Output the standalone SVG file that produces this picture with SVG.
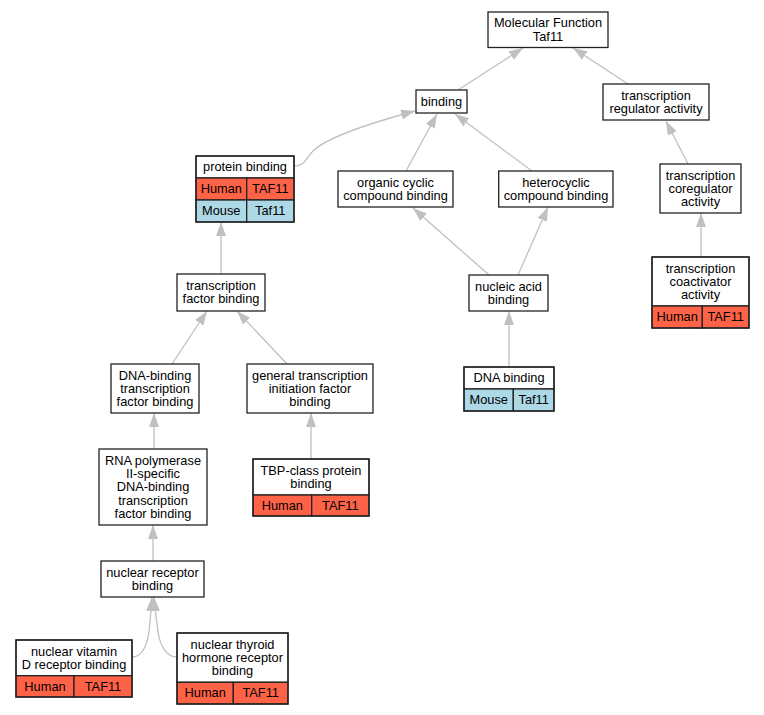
<svg xmlns="http://www.w3.org/2000/svg" width="764" height="715" viewBox="0 0 764 715">
<style>
.b{fill:#fff;stroke:#222;stroke-width:1.3}
.h{fill:#ff6347;stroke:#222;stroke-width:1.3}
.m{fill:#add8e6;stroke:#222;stroke-width:1.3}
.l{stroke:#222;stroke-width:1.3;fill:none}
text{font-family:"Liberation Sans",Arial,sans-serif;font-size:12.8px;fill:#000;text-anchor:middle}
.e path{fill:none;stroke:#c0c0c0;stroke-width:1.3;marker-end:url(#ah)}
</style>
<defs>
<marker id="ah" markerUnits="userSpaceOnUse" markerWidth="14" markerHeight="10" viewBox="0 0 14 10" refX="14" refY="5" orient="auto">
<path d="M0,0 L14,5 L0,10 Z" fill="#c0c0c0"/>
</marker>
</defs>
<rect width="764" height="715" fill="#fff"/>
<g class="e" id="edges">
<path d="M458,90 L523,48"/>
<path d="M628,84 L573,48"/>
<path d="M294,166 C306,166 306,157 314,150 C330,136 378,121 415,111"/>
<path d="M406,171 L437,114"/>
<path d="M532,171 L455,114"/>
<path d="M489,275 L413,208"/>
<path d="M518,275 L548,207"/>
<path d="M509,367 L509,311"/>
<path d="M688,164 L666,121"/>
<path d="M701,257 L701,213"/>
<path d="M221,274 L221,222"/>
<path d="M172,364 L207,311"/>
<path d="M287,364 L237,311"/>
<path d="M311,459 L311,413"/>
<path d="M154,449 L154,413"/>
<path d="M153,561 L153,525"/>
<path d="M132,657 C143,657 147,645 149,632 C150,622 151,612 152,597"/>
<path d="M177,657 C166,657 160,645 158,632 C157,622 155,612 154,597"/>
</g>
<g id="n_mf"><rect class="b" x="488" y="12" width="120" height="35.5"/><text x="548" y="27.4">Molecular Function</text><text x="548" y="40.7">Taf11</text></g>
<g id="n_binding"><rect class="b" x="416" y="90" width="51" height="23"/><text x="441.5" y="105.8">binding</text></g>
<g id="n_tra"><rect class="b" x="603" y="84" width="106" height="36"/><text x="656" y="99.6">transcription</text><text x="656" y="112.9">regulator activity</text></g>
<g id="n_protein"><rect class="b" x="196" y="156" width="98" height="22"/><rect class="h" x="196" y="178" width="50.7" height="22"/><rect class="h" x="246.7" y="178" width="47.3" height="22"/><rect class="m" x="196" y="200" width="50.7" height="22"/><rect class="m" x="246.7" y="200" width="47.3" height="22"/><rect class="l" x="196" y="156" width="98" height="66"/><text x="245" y="171.3">protein binding</text><text x="221.3" y="193.3">Human</text><text x="270.3" y="193.3">TAF11</text><text x="221.3" y="215.3">Mouse</text><text x="270.3" y="215.3">Taf11</text></g>
<g id="n_organic"><rect class="b" x="338" y="171" width="115" height="36"/><text x="395.5" y="186.6">organic cyclic</text><text x="395.5" y="199.9">compound binding</text></g>
<g id="n_hetero"><rect class="b" x="498.7" y="171" width="114.3" height="36"/><text x="556" y="186.6">heterocyclic</text><text x="556" y="199.9">compound binding</text></g>
<g id="n_coreg"><rect class="b" x="660" y="164" width="81" height="49"/><text x="700.5" y="179.5">transcription</text><text x="700.5" y="192.8">coregulator</text><text x="700.5" y="206.1">activity</text></g>
<g id="n_coact"><rect class="b" x="652" y="257" width="97" height="49"/><rect class="h" x="652" y="306" width="50.3" height="22"/><rect class="h" x="702.3" y="306" width="46.7" height="22"/><rect class="l" x="652" y="257" width="97" height="71"/><text x="700.5" y="272.5">transcription</text><text x="700.5" y="285.8">coactivator</text><text x="700.5" y="299.1">activity</text><text x="677.2" y="321.3">Human</text><text x="725.7" y="321.3">TAF11</text></g>
<g id="n_nucleic"><rect class="b" x="469" y="275" width="79" height="36"/><text x="508.5" y="290.6">nucleic acid</text><text x="508.5" y="303.9">binding</text></g>
<g id="n_dna"><rect class="b" x="464" y="367" width="90" height="22"/><rect class="m" x="464" y="389" width="49.3" height="22"/><rect class="m" x="513.3" y="389" width="40.7" height="22"/><rect class="l" x="464" y="367" width="90" height="44"/><text x="509" y="382.3">DNA binding</text><text x="488.7" y="404.3">Mouse</text><text x="533.7" y="404.3">Taf11</text></g>
<g id="n_tf"><rect class="b" x="177" y="274" width="88" height="37"/><text x="221" y="290.1">transcription</text><text x="221" y="303.4">factor binding</text></g>
<g id="n_dnabtf"><rect class="b" x="111" y="364" width="88" height="49"/><text x="155" y="379.5">DNA-binding</text><text x="155" y="392.8">transcription</text><text x="155" y="406.1">factor binding</text></g>
<g id="n_gtif"><rect class="b" x="247" y="364" width="126" height="49"/><text x="310" y="379.5">general transcription</text><text x="310" y="392.8">initiation factor</text><text x="310" y="406.1">binding</text></g>
<g id="n_tbp"><rect class="b" x="253" y="459" width="116" height="36"/><rect class="h" x="253" y="495" width="58.7" height="21"/><rect class="h" x="311.7" y="495" width="57.3" height="21"/><rect class="l" x="253" y="459" width="116" height="57"/><text x="311" y="474.6">TBP-class protein</text><text x="311" y="487.9">binding</text><text x="282.3" y="509.8">Human</text><text x="340.3" y="509.8">TAF11</text></g>
<g id="n_rnapol"><rect class="b" x="99" y="449" width="108" height="76"/><text x="153" y="464.7">RNA polymerase</text><text x="153" y="478">II-specific</text><text x="153" y="491.3">DNA-binding</text><text x="153" y="504.6">transcription</text><text x="153" y="517.9">factor binding</text></g>
<g id="n_nr"><rect class="b" x="101" y="561" width="103" height="36"/><text x="152.5" y="576.6">nuclear receptor</text><text x="152.5" y="589.9">binding</text></g>
<g id="n_vitd"><rect class="b" x="16" y="640" width="116" height="35.7"/><rect class="h" x="16" y="675.7" width="58" height="21.3"/><rect class="h" x="74" y="675.7" width="58" height="21.3"/><rect class="l" x="16" y="640" width="116" height="57"/><text x="74" y="655.6">nuclear vitamin</text><text x="74" y="668.9">D receptor binding</text><text x="45" y="690.6">Human</text><text x="103" y="690.6">TAF11</text></g>
<g id="n_thyroid"><rect class="b" x="177" y="633" width="111" height="49.3"/><rect class="h" x="177" y="682.3" width="56.3" height="21.7"/><rect class="h" x="233.3" y="682.3" width="54.7" height="21.7"/><rect class="l" x="177" y="633" width="111" height="71"/><text x="232.5" y="648.6">nuclear thyroid</text><text x="232.5" y="661.9">hormone receptor</text><text x="232.5" y="675.2">binding</text><text x="205.2" y="697.4">Human</text><text x="260.7" y="697.4">TAF11</text></g>
</svg>
